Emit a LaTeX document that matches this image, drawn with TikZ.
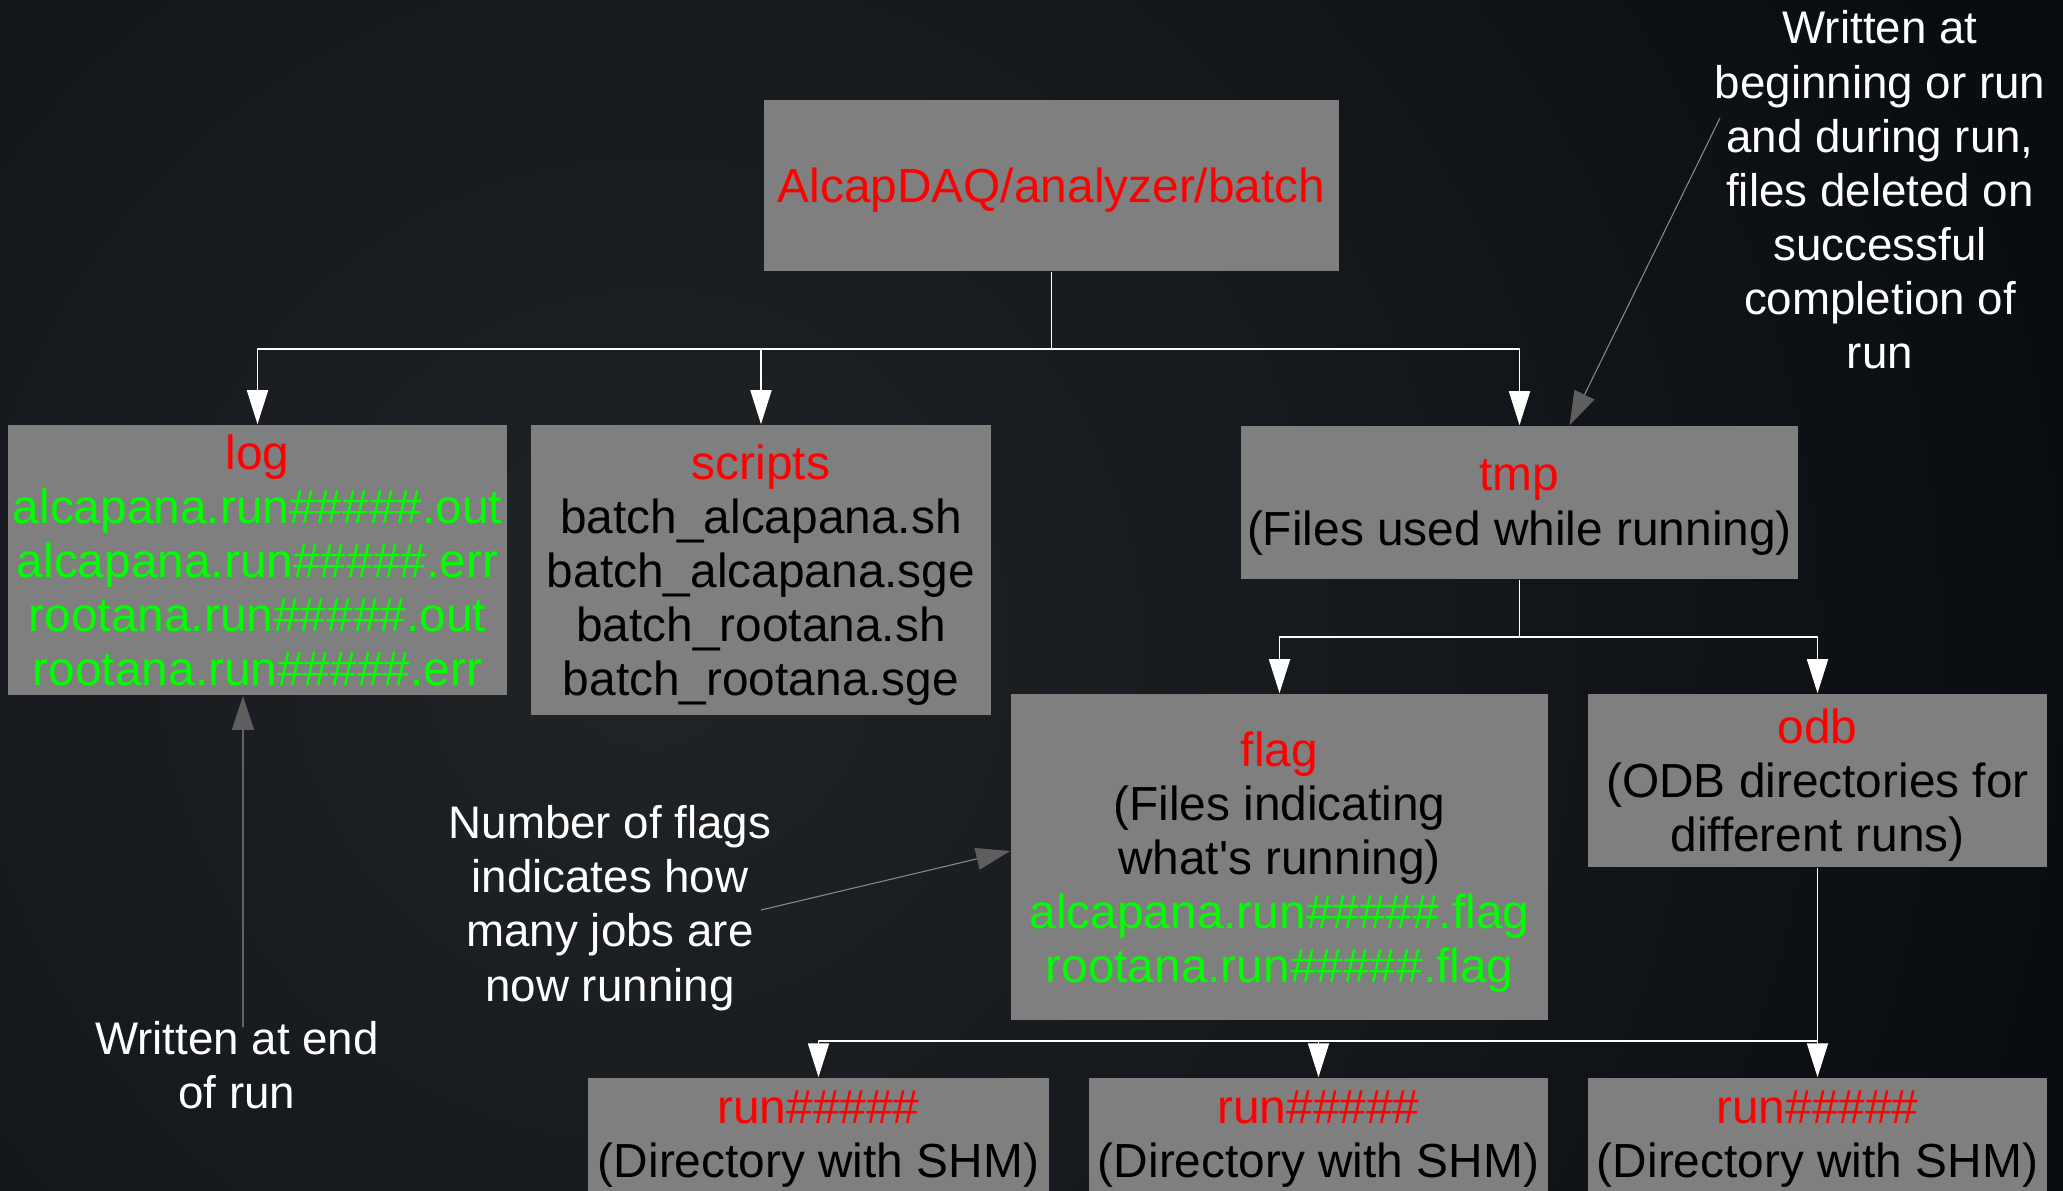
\documentclass[tikz,border=0pt]{standalone}
\usepackage{fontspec}
\setmainfont{Liberation Sans}
\usetikzlibrary{arrows.meta}
\definecolor{boxgray}{HTML}{7F7F7F}
\definecolor{dirred}{HTML}{FF0000}
\definecolor{filegreen}{HTML}{00FF00}
\definecolor{notegray}{HTML}{8A8A8A}
\definecolor{tipgray}{HTML}{5E5E5E}
\definecolor{bglight}{HTML}{212427}
\definecolor{bgdark}{HTML}{080B10}
\newcommand{\dirname}[1]{\textcolor{dirred}{#1}}
\newcommand{\fname}[1]{\textcolor{filegreen}{#1}}
\begin{document}
\begin{tikzpicture}[x=0.01cm,y=-0.01cm, font=\fontsize{13.6pt}{15.4pt}\selectfont, line join=round,
	box/.style={fill=boxgray, inner sep=0pt, align=center, text depth=0pt},
	note/.style={text=white, inner sep=0pt, align=center, font=\fontsize{13pt}{15.4pt}\selectfont},
	conn/.style={draw=white, line width=0.5pt, -{Triangle[length=3.4mm,width=2.1mm]}},
	pointer/.style={draw=notegray, line width=0.3pt, -{Triangle[length=3.4mm,width=2.2mm,color=tipgray]}}]
	\useasboundingbox (0,0) rectangle (2063,1191);
	\begin{scope}
		\clip (0,0) rectangle (2063,1191);
		\fill[bgdark] (0,0) rectangle (2063,1191);
		\shade[inner color=bglight, outer color=bgdark] (650,650) circle (1500);
	\end{scope}
	% directories
	\node[box, minimum width=5.75cm, minimum height=1.71cm] (root) at (1051.5,185.5) {\dirname{AlcapDAQ/analyzer/batch}};
	\node[box, minimum width=4.99cm, minimum height=2.70cm] (log) at (257.5,560) {\dirname{log}\\\fname{alcapana.run\#\#\#\#\#.out}\\\fname{alcapana.run\#\#\#\#\#.err}\\\fname{rootana.run\#\#\#\#\#.out}\\\fname{rootana.run\#\#\#\#\#.err}};
	\node[box, minimum width=4.60cm, minimum height=2.90cm] (scripts) at (761,570) {\dirname{scripts}\\batch\_alcapana.sh\\batch\_alcapana.sge\\batch\_rootana.sh\\batch\_rootana.sge};
	\node[box, minimum width=5.57cm, minimum height=1.53cm] (tmp) at (1519.5,502.5) {\dirname{tmp}\\(Files used while running)};
	\node[box, minimum width=5.37cm, minimum height=3.26cm] (flag) at (1279.5,857) {\dirname{flag}\\(Files indicating\\what\textquotesingle s running)\\\fname{alcapana.run\#\#\#\#\#.flag}\\\fname{rootana.run\#\#\#\#\#.flag}};
	\node[box, minimum width=4.59cm, minimum height=1.73cm] (odb) at (1817.5,780.5) {\dirname{odb}\\(ODB directories for\\different runs)};
	\foreach \n/\x/\w in {runa/818.5/4.61, runb/1318.5/4.59, runc/1817.5/4.59}{
		\node[box, minimum width=\w cm, minimum height=1.13cm] (\n) at (\x,1134.5) {\dirname{run\#\#\#\#\#}\\(Directory with SHM)};
	}
	% tree
	\draw[conn] (root.south) -- ++(0,77) coordinate (rootfork) -| (log.north);
	\draw[conn] (rootfork) -| (scripts.north);
	\draw[conn] (rootfork) -| (tmp.north);
	\draw[conn] (tmp.south) -- ++(0,57) coordinate (tmpfork) -| (flag.north);
	\draw[conn] (tmpfork) -| (odb.north);
	\draw[conn] (odb.south) -- ++(0,173) coordinate (odbfork) -| (runa.north);
	\draw[conn] (odbfork) -| (runb.north);
	\draw[conn] (odbfork) -- (runc.north);
	% notes
	\node[note] (tmpnote) at (1880,190) {Written at\\beginning or run\\and during run,\\files deleted on\\successful\\completion of\\run};
	\node[note] (flagnote) at (610,908) {Number of flags\\indicates how\\many jobs are\\now running};
	\node[note] (lognote) at (237,1065) {Written at end\\of run};
	\path (1720,118) coordinate (tmpnotestart)
		(761,910) coordinate (flagnotestart)
		(243,1027) coordinate (lognotestart);
	\draw[pointer] (tmpnotestart) -- ([xshift=0.5cm]tmp.north);
	\draw[pointer] (flagnotestart) -- ([yshift=0.06cm]flag.west);
	\draw[pointer] (lognotestart) -- ([xshift=-0.145cm]log.south);
\end{tikzpicture}
\end{document}
